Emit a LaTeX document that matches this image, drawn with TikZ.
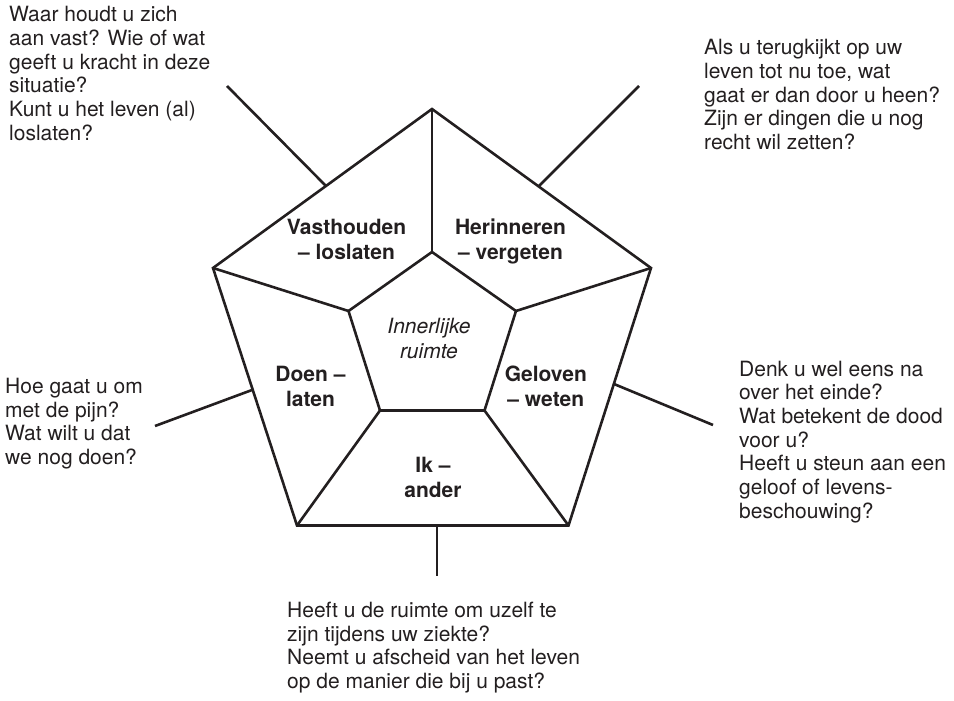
\documentclass[tikz,border=0pt]{standalone}
\usepackage{fontspec}
\setmainfont{TeX Gyre Heros}
\usepackage{tikz}
\definecolor{inkblack}{RGB}{35,31,32}
\tikzset{
  rim/.style={inkblack, line width=2.6pt},
  question/.style={align=left, anchor=base west, inner sep=0pt, text=inkblack,
    font=\fontsize{21}{23.7}\selectfont},
  theme/.style={align=center, anchor=base, inner sep=0pt, text=inkblack,
    font=\bfseries\fontsize{21}{25}\selectfont},
}

\begin{document}
\begin{tikzpicture}[x=1pt, y=-1pt]
  \useasboundingbox (0,0) rectangle (954,701);
  % Outer pentagon corners
  \coordinate (T)  at (432,109);
  \coordinate (UL) at (213,268);
  \coordinate (UR) at (651,268);
  \coordinate (BL) at (297,525.5);
  \coordinate (BR) at (568.5,525.5);
  % Inner pentagon corners
  \coordinate (t)  at (432,252);
  \coordinate (l)  at (348.5,311);
  \coordinate (r)  at (516,311);
  \coordinate (bl) at (380,410.5);
  \coordinate (br) at (484.5,410.5);
  \draw[rim] (T) -- (UR) -- (BR) -- (BL) -- (UL) -- cycle;
  \draw[rim] (t) -- (r) -- (br) -- (bl) -- (l) -- cycle;
  \foreach \o/\i in {T/t, UL/l, UR/r, BL/bl, BR/br} {
    \draw[rim] (\o) -- (\i);
  }
  % Spokes out to the questions
  \foreach \n/\a/\b in {1/{326,186}/{227,86}, 2/{539,186}/{639,86},
      3/{252,390}/{155,426}, 4/{614,384}/{713,425}, 5/{437,525.5}/{437,576}} {
    \coordinate (s\n) at (\a);
    \coordinate (e\n) at (\b);
    \draw[rim] (s\n) -- (e\n);
  }
  % Themes (placed at the baseline of their last line)
  \node[theme] (hold)   at (346.5,259) {Vasthouden\\– loslaten};
  \node[theme] (memory) at (510.5,259) {Herinneren\\– vergeten};
  \node[theme] (doing)  at (310.5,406.7) {Doen –\\laten};
  \node[theme] (belief) at (545.8,406.7) {Geloven\\– weten};
  \node[theme] (self)   at (433,497.3) {Ik –\\ander};
  \node[theme, font=\itshape\fontsize{21}{25}\selectfont] (inner) at (429,358.3) {Innerlijke\\ruimte};
  % Questions
  \node[question] (q1) at (9,140.2) {Waar houdt u zich\\aan vast? Wie of wat\\geeft u kracht in deze\\situatie?\\Kunt u het leven (al)\\loslaten?};
  \node[question] (q2) at (704,149.4) {Als u terugkijkt op uw\\leven tot nu toe, wat\\gaat er dan door u heen?\\Zijn er dingen die u nog\\recht wil zetten?};
  \node[question] (q3) at (5,464.4) {Hoe gaat u om\\met de pijn?\\Wat wilt u dat\\we nog doen?};
  \node[question] (q4) at (739,518.2) {Denk u wel eens na\\over het einde?\\Wat betekent de dood\\voor u?\\Heeft u steun aan een\\geloof of levens-\\beschouwing?};
  \node[question] (q5) at (287,688.4) {Heeft u de ruimte om uzelf te\\zijn tijdens uw ziekte?\\Neemt u afscheid van het leven\\op de manier die bij u past?};
\end{tikzpicture}
\end{document}
